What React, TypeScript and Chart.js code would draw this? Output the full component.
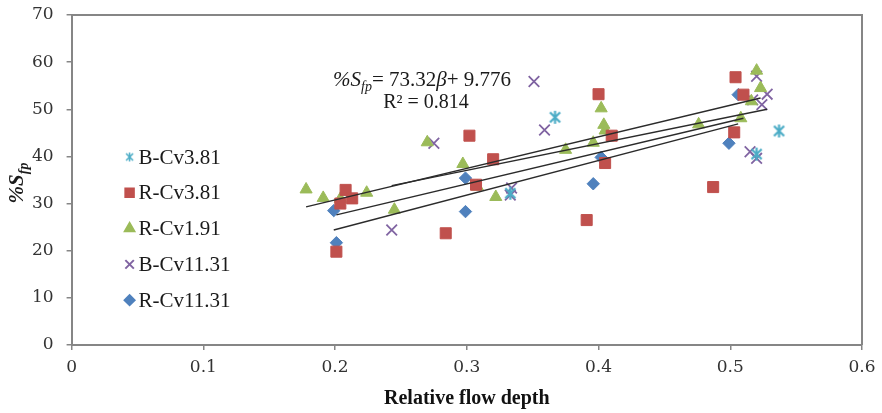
import React, { useEffect, useRef } from 'react';
import { Chart, registerables } from 'chart.js';
import { drawPoint } from 'chart.js/helpers';

Chart.register(...registerables);

// ---- data (relative flow depth, %Sfp) ----
const seriesNames = ['B-Cv3.81', 'R-Cv3.81', 'R-Cv1.91', 'B-Cv11.31', 'R-Cv11.31'];

const bCv381X = [0.333, 0.367, 0.52, 0.537];
const bCv381Y = [32.2, 48.3, 40.5, 45.4];

const rCv381X = [0.201, 0.204, 0.208, 0.213, 0.284, 0.302, 0.307, 0.32, 0.391, 0.4, 0.405, 0.41, 0.487, 0.503, 0.504, 0.51];
const rCv381Y = [19.8, 30.0, 32.9, 31.1, 23.7, 44.4, 34.0, 39.4, 26.5, 53.2, 38.6, 44.4, 33.5, 45.1, 56.8, 53.1];

const rCv191X = [0.178, 0.191, 0.204, 0.224, 0.245, 0.27, 0.297, 0.308, 0.322, 0.375, 0.396, 0.402, 0.404, 0.405, 0.476, 0.508, 0.516, 0.52, 0.523];
const rCv191Y = [33.0, 31.2, 31.0, 32.3, 28.7, 43.0, 38.4, 33.6, 31.4, 41.4, 42.9, 50.2, 46.7, 45.5, 46.8, 48.1, 51.7, 58.2, 54.5];

const bCv1131X = [0.243, 0.275, 0.333, 0.334, 0.351, 0.359, 0.515, 0.517, 0.52, 0.52, 0.524, 0.528];
const bCv1131Y = [24.4, 42.8, 31.8, 33.3, 55.9, 45.6, 41.0, 52.0, 39.6, 57.0, 51.0, 53.2];

const rCv1131X = [0.199, 0.201, 0.299, 0.299, 0.396, 0.402, 0.499, 0.506];
const rCv1131Y = [28.5, 21.7, 35.4, 28.3, 34.2, 39.8, 42.8, 53.1];

// linear trendlines (start / end)
const trendNames = ['R-Cv1.91', 'B-Cv11.31', 'R-Cv3.81', 'R-Cv11.31'];
const trendX0 = [0.178, 0.243, 0.201, 0.199];
const trendY0 = [29.3, 33.8, 27.6, 24.4];
const trendX1 = [0.523, 0.528, 0.51, 0.506];
const trendY1 = [52.4, 50.0, 48.1, 46.9];

const xTicks = [0, 0.1, 0.2, 0.3, 0.4, 0.5, 0.6];
const yTicks = [0, 10, 20, 30, 40, 50, 60, 70];

const equationText = ['%S', 'fp', '= 73.32', 'β', '+ 9.776'];
const r2Text = 'R² = 0.814';
const xTitle = 'Relative flow depth';

// ---- styling ----
const colors = ['#4BACC6', '#C0504D', '#9BBB59', '#8064A2', '#4F81BD'];
const AXIS = '#868686';
const SERIF = '"Liberation Serif", "Times New Roman", serif';
const TICKFONT = '"DejaVu Serif", serif';

function makeAsterisk(size: number, color: string, lw: number) {
  const c = document.createElement('canvas');
  c.width = size;
  c.height = size;
  const g = c.getContext('2d')!;
  g.strokeStyle = color;
  g.lineWidth = lw;
  const m = size / 2;
  const r = size / 2 - 1;
  const d = r * 0.78;
  g.beginPath();
  g.moveTo(m - d, m - d);
  g.lineTo(m + d, m + d);
  g.moveTo(m + d, m - d);
  g.lineTo(m - d, m + d);
  g.moveTo(m, m - r);
  g.lineTo(m, m + r);
  g.stroke();
  return c;
}

function pts(xs: number[], ys: number[]) {
  return xs.map((x, i) => ({ x, y: ys[i] }));
}

export default function App() {
  const ref = useRef<HTMLCanvasElement | null>(null);

  useEffect(() => {
    if (!ref.current) return;
    const star = makeAsterisk(15, colors[0], 2.2);
    const starSmall = makeAsterisk(11, colors[0], 1.5);
    const styles: any[] = [star, 'rect', 'triangle', 'crossRot', 'rectRot'];
    const radii = [7, 7.8, 7, 7.5, 6.2];
    const legendStyles: any[] = [starSmall, 'rect', 'triangle', 'crossRot', 'rectRot'];
    const legendRadii = [5, 6, 5.5, 6, 5];

    const xsAll = [bCv381X, rCv381X, rCv191X, bCv1131X, rCv1131X];
    const ysAll = [bCv381Y, rCv381Y, rCv191Y, bCv1131Y, rCv1131Y];

    const scatterSets = seriesNames.map((name, i) => ({
      type: 'scatter' as const,
      label: name,
      data: pts(xsAll[i], ysAll[i]),
      pointStyle: styles[i],
      pointRadius: radii[i],
      pointHoverRadius: radii[i],
      backgroundColor: colors[i],
      borderColor: colors[i],
      pointBorderWidth: i === 3 ? 1.8 : 1,
      showLine: false,
      order: 2,
    }));

    const trendSets = trendNames.map((name, i) => ({
      type: 'line' as const,
      label: 'Linear (' + name + ')',
      data: [
        { x: trendX0[i], y: trendY0[i] },
        { x: trendX1[i], y: trendY1[i] },
      ],
      borderColor: '#2b2b2b',
      borderWidth: 1.4,
      pointRadius: 0,
      fill: false,
      order: 1,
    }));

    const overlay = {
      id: 'overlay',
      afterDraw(chart: any) {
        const { ctx, chartArea: ca } = chart;
        ctx.save();
        // top & right frame
        ctx.strokeStyle = AXIS;
        ctx.lineWidth = 2;
        ctx.beginPath();
        ctx.moveTo(ca.left, ca.top);
        ctx.lineTo(ca.right, ca.top);
        ctx.lineTo(ca.right, ca.bottom);
        ctx.stroke();

        // legend
        const lx = ca.left + 58;
        const ly0 = ca.top + 142;
        const dy = 35.8;
        ctx.textBaseline = 'middle';
        ctx.textAlign = 'left';
        seriesNames.forEach((name, i) => {
          const y = ly0 + i * dy;
          ctx.fillStyle = colors[i];
          ctx.strokeStyle = colors[i];
          drawPoint(ctx, { pointStyle: legendStyles[i], radius: legendRadii[i], rotation: 0, borderWidth: 1.2 }, lx, y);
          ctx.fillStyle = '#1a1a1a';
          ctx.font = '21px ' + SERIF;
          ctx.fillText(name, lx + 9, y + 1);
        });

        // equation
        let ex = 333;
        const eb = 86;
        ctx.textBaseline = 'alphabetic';
        ctx.fillStyle = '#1a1a1a';
        const parts: [string, string, number][] = [
          [equationText[0], 'italic 21px ' + SERIF, 0],
          [equationText[1], 'italic 14px ' + SERIF, 5],
          [equationText[2], '21px ' + SERIF, 0],
          [equationText[3], 'italic 21px ' + SERIF, 0],
          [equationText[4], '21px ' + SERIF, 0],
        ];
        parts.forEach(([t, f, off]) => {
          ctx.font = f;
          ctx.fillText(t, ex, eb + off);
          ex += ctx.measureText(t).width;
        });
        ctx.font = '20px ' + SERIF;
        ctx.textAlign = 'center';
        ctx.fillText(r2Text, 426, 108);

        // y title
        ctx.translate(16, 183);
        ctx.rotate(-Math.PI / 2);
        ctx.textAlign = 'left';
        ctx.font = 'italic bold 21px ' + SERIF;
        const w1 = ctx.measureText('%S').width;
        ctx.font = 'italic bold 14px ' + SERIF;
        const w2 = ctx.measureText('fp').width;
        const start = -(w1 + w2) / 2;
        ctx.font = 'italic bold 21px ' + SERIF;
        ctx.fillText('%S', start, 7);
        ctx.font = 'italic bold 14px ' + SERIF;
        ctx.fillText('fp', start + w1, 12);
        ctx.restore();
      },
    };

    const chart = new Chart(ref.current, {
      type: 'scatter',
      data: { datasets: [...trendSets, ...scatterSets] as any },
      options: {
        animation: false,
        responsive: false,
        maintainAspectRatio: false,
        layout: { padding: { top: 15, right: 20, left: 0, bottom: 0 } },
        plugins: {
          legend: { display: false },
          tooltip: { enabled: false },
        },
        scales: {
          x: {
            type: 'linear',
            min: xTicks[0],
            max: xTicks[xTicks.length - 1],
            afterBuildTicks: (s: any) => {
              s.ticks = xTicks.map((v) => ({ value: v }));
            },
            afterFit: (s: any) => {
              s.height = 68;
              s.paddingLeft = 0;
              s.paddingRight = 0;
            },
            ticks: {
              font: { family: TICKFONT, size: 17 },
              color: '#333',
              padding: 7,
              maxRotation: 0,
              callback: (v: any) => (v === 0 ? '0' : Number(v).toFixed(1)),
            },
            grid: {
              display: true,
              drawOnChartArea: false,
              drawTicks: true,
              tickLength: 5,
              color: AXIS,
              lineWidth: 1.5,
            },
            border: { display: true, color: AXIS, width: 2 },
            title: {
              display: true,
              text: xTitle,
              font: { family: SERIF, size: 20, weight: 'bold' },
              color: '#111',
              padding: { top: 0, bottom: 2 },
            },
          },
          y: {
            type: 'linear',
            min: yTicks[0],
            max: yTicks[yTicks.length - 1],
            afterBuildTicks: (s: any) => {
              s.ticks = yTicks.map((v) => ({ value: v }));
            },
            afterFit: (s: any) => {
              s.width = 71.6;
              s.paddingTop = 0;
              s.paddingBottom = 0;
            },
            ticks: {
              font: { family: TICKFONT, size: 17 },
              color: '#333',
              padding: 13,
              callback: (v: any) => String(v),
            },
            grid: {
              display: true,
              drawOnChartArea: false,
              drawTicks: true,
              tickLength: 5,
              color: AXIS,
              lineWidth: 1.5,
            },
            border: { display: true, color: AXIS, width: 2 },
          },
        },
      } as any,
      plugins: [overlay],
    });

    return () => chart.destroy();
  }, []);

  return (
    <div style={{ position: 'fixed', left: 0, top: 0, width: 882, height: 413, background: '#fff' }}>
      <canvas ref={ref} width={882} height={413} style={{ display: 'block', width: 882, height: 413 }} />
    </div>
  );
}
